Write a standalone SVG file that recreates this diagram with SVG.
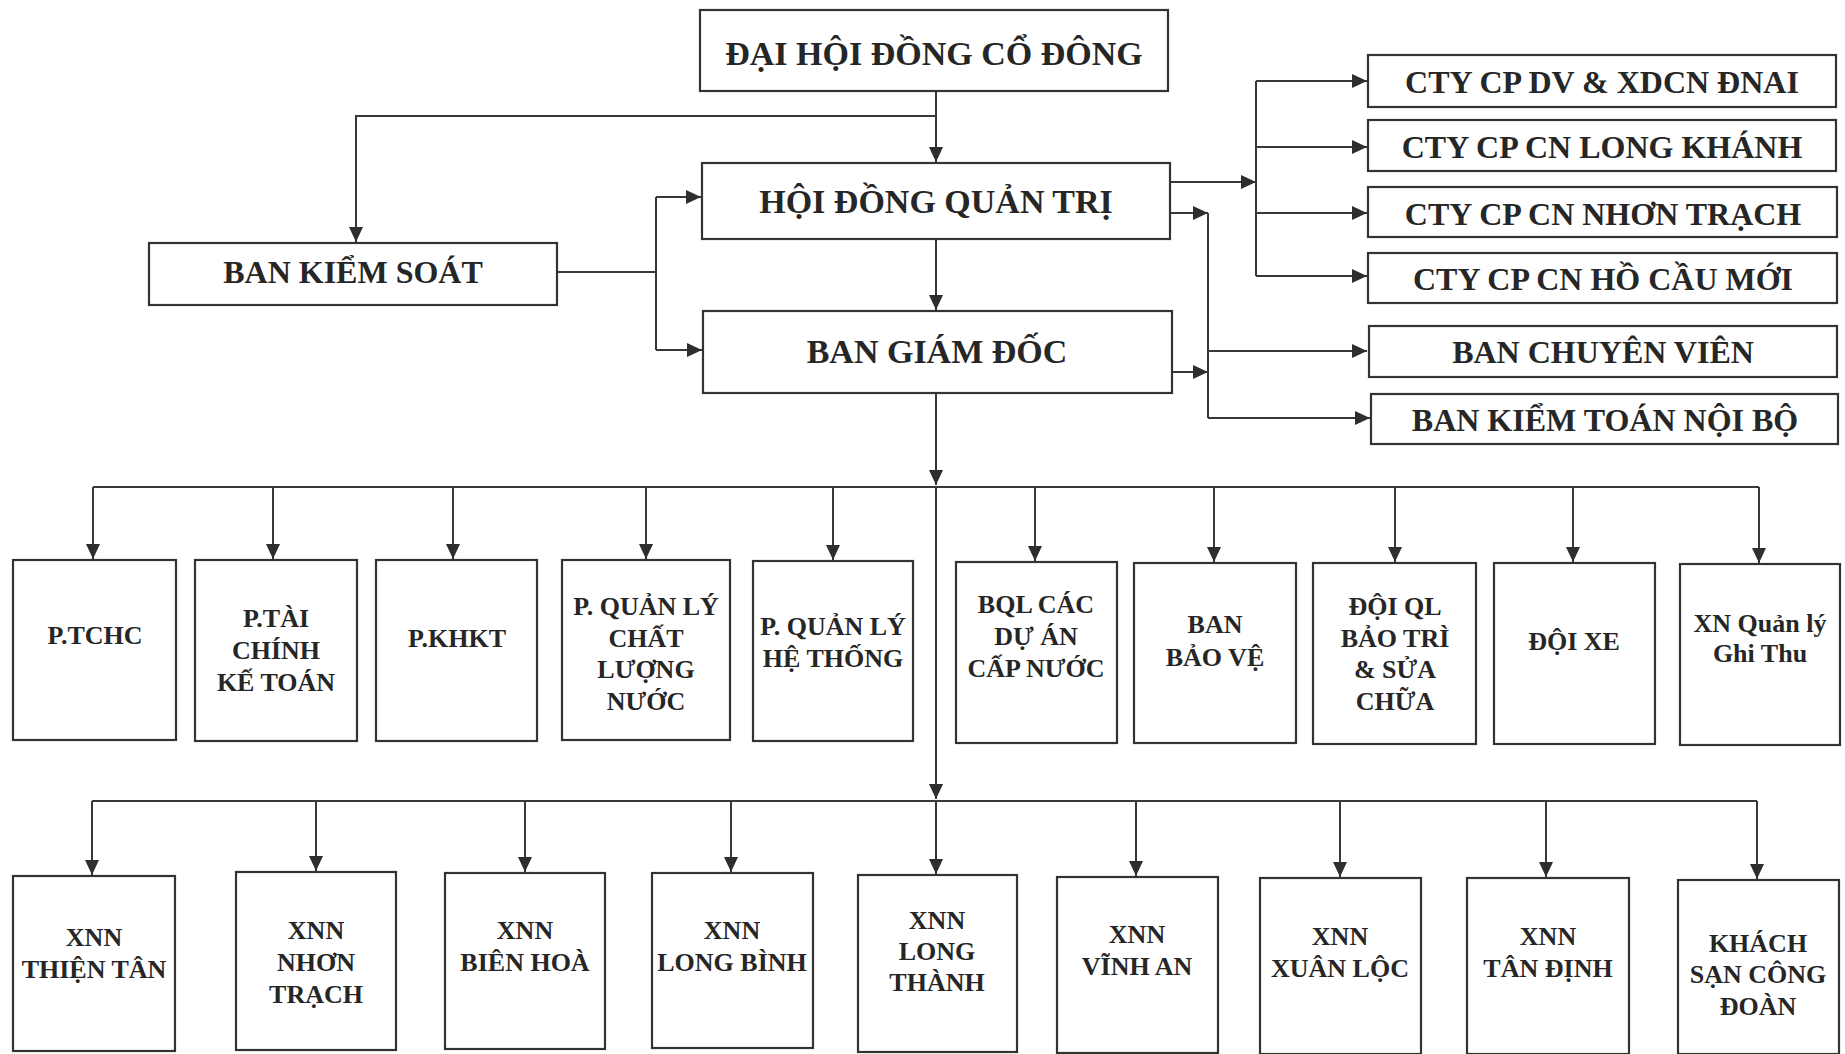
<svg xmlns="http://www.w3.org/2000/svg" width="1845" height="1054" viewBox="0 0 1845 1054">
<defs>
<style>
.box{fill:#fff;stroke:#333;stroke-width:2.2}
.ln{fill:none;stroke:#383838;stroke-width:2}
.t{font-family:"Liberation Serif","Times New Roman",serif;font-weight:bold;fill:#262626;text-anchor:middle}
.t1{font-size:34px}
.t2{font-size:32px}
.t3{font-size:26px}
</style>
<marker id="ah" markerUnits="userSpaceOnUse" markerWidth="16" markerHeight="14" refX="15" refY="7" orient="auto">
<path d="M0,0 L15,7 L0,14 z" fill="#2e2e2e"/>
</marker>
</defs>
<rect width="1845" height="1054" fill="#fff"/>

<g id="connectors">
<path class="ln" d="M936,91 V162" marker-end="url(#ah)"/>
<path class="ln" d="M936,116 H356 V242" marker-end="url(#ah)"/>
<path class="ln" d="M557,272 H656"/>
<path class="ln" d="M656,197 V350"/>
<path class="ln" d="M656,197 H701" marker-end="url(#ah)"/>
<path class="ln" d="M656,350 H702" marker-end="url(#ah)"/>
<path class="ln" d="M936,239 V310" marker-end="url(#ah)"/>
<path class="ln" d="M1170,182 H1256" marker-end="url(#ah)"/>
<path class="ln" d="M1256,81 V276"/>
<path class="ln" d="M1256,81 H1367" marker-end="url(#ah)"/>
<path class="ln" d="M1256,147 H1367" marker-end="url(#ah)"/>
<path class="ln" d="M1256,213 H1367" marker-end="url(#ah)"/>
<path class="ln" d="M1256,276 H1367" marker-end="url(#ah)"/>
<path class="ln" d="M1170,213 H1208" marker-end="url(#ah)"/>
<path class="ln" d="M1208,213 V418"/>
<path class="ln" d="M1172,372 H1208" marker-end="url(#ah)"/>
<path class="ln" d="M1208,351 H1367" marker-end="url(#ah)"/>
<path class="ln" d="M1208,418 H1370" marker-end="url(#ah)"/>
<path class="ln" d="M936,393 V485" marker-end="url(#ah)"/>
<path class="ln" d="M93,487 H1759"/>
<path class="ln" d="M93,487 V559" marker-end="url(#ah)"/>
<path class="ln" d="M273,487 V559" marker-end="url(#ah)"/>
<path class="ln" d="M453,487 V559" marker-end="url(#ah)"/>
<path class="ln" d="M646,487 V559" marker-end="url(#ah)"/>
<path class="ln" d="M833,487 V560" marker-end="url(#ah)"/>
<path class="ln" d="M1035,487 V561" marker-end="url(#ah)"/>
<path class="ln" d="M1214,487 V562" marker-end="url(#ah)"/>
<path class="ln" d="M1395,487 V562" marker-end="url(#ah)"/>
<path class="ln" d="M1573,487 V562" marker-end="url(#ah)"/>
<path class="ln" d="M1759,487 V563" marker-end="url(#ah)"/>
<path class="ln" d="M936,487 V799" marker-end="url(#ah)"/>
<path class="ln" d="M92,801 H1757"/>
<path class="ln" d="M92,801 V875" marker-end="url(#ah)"/>
<path class="ln" d="M316,801 V871" marker-end="url(#ah)"/>
<path class="ln" d="M525,801 V872" marker-end="url(#ah)"/>
<path class="ln" d="M731,801 V872" marker-end="url(#ah)"/>
<path class="ln" d="M936,801 V874" marker-end="url(#ah)"/>
<path class="ln" d="M1136,801 V876" marker-end="url(#ah)"/>
<path class="ln" d="M1340,801 V877" marker-end="url(#ah)"/>
<path class="ln" d="M1546,801 V877" marker-end="url(#ah)"/>
<path class="ln" d="M1757,801 V879" marker-end="url(#ah)"/>
</g>

<g id="n-dhdcd"><rect class="box" x="700" y="10" width="468" height="81"/><text class="t t1" x="934" y="65">ĐẠI HỘI ĐỒNG CỔ ĐÔNG</text></g>
<g id="n-hdqt"><rect class="box" x="702" y="163" width="468" height="76"/><text class="t t1" x="936" y="213">HỘI ĐỒNG QUẢN TRỊ</text></g>
<g id="n-bgd"><rect class="box" x="703" y="311" width="469" height="82"/><text class="t t1" x="937" y="363">BAN GIÁM ĐỐC</text></g>
<g id="n-bks"><rect class="box" x="149" y="243" width="408" height="62"/><text class="t t2" x="353" y="283">BAN KIỂM SOÁT</text></g>

<g id="n-cty1"><rect class="box" x="1368" y="55" width="468" height="52"/><text class="t t2" x="1602" y="93">CTY CP DV &amp; XDCN ĐNAI</text></g>
<g id="n-cty2"><rect class="box" x="1368" y="120" width="468" height="51"/><text class="t t2" x="1602" y="158">CTY CP CN LONG KHÁNH</text></g>
<g id="n-cty3"><rect class="box" x="1368" y="187" width="469" height="50"/><text class="t t2" x="1603" y="225">CTY CP CN NHƠN TRẠCH</text></g>
<g id="n-cty4"><rect class="box" x="1368" y="253" width="469" height="50"/><text class="t t2" x="1603" y="290">CTY CP CN HỒ CẦU MỚI</text></g>
<g id="n-bcv"><rect class="box" x="1369" y="326" width="468" height="51"/><text class="t t2" x="1603" y="363">BAN CHUYÊN VIÊN</text></g>
<g id="n-bktnb"><rect class="box" x="1371" y="394" width="467" height="50"/><text class="t t2" x="1605" y="431">BAN KIỂM TOÁN NỘI BỘ</text></g>

<g id="n-ptchc"><rect class="box" x="13" y="560" width="163" height="180"/><text class="t t3" x="95" y="644">P.TCHC</text></g>
<g id="n-ptckt"><rect class="box" x="195" y="560" width="162" height="181"/><text class="t t3" x="276"><tspan x="276" y="627">P.TÀI</tspan><tspan x="276" y="659">CHÍNH</tspan><tspan x="276" y="691">KẾ TOÁN</tspan></text></g>
<g id="n-pkhkt"><rect class="box" x="376" y="560" width="161" height="181"/><text class="t t3" x="457" y="647">P.KHKT</text></g>
<g id="n-pqlcl"><rect class="box" x="562" y="560" width="168" height="180"/><text class="t t3" x="646"><tspan x="646" y="615">P. QUẢN LÝ</tspan><tspan x="646" y="647">CHẤT</tspan><tspan x="646" y="678">LƯỢNG</tspan><tspan x="646" y="710">NƯỚC</tspan></text></g>
<g id="n-pqlht"><rect class="box" x="753" y="561" width="160" height="180"/><text class="t t3" x="833"><tspan x="833" y="635">P. QUẢN LÝ</tspan><tspan x="833" y="667">HỆ THỐNG</tspan></text></g>
<g id="n-bql"><rect class="box" x="956" y="562" width="161" height="181"/><text class="t t3" x="1036"><tspan x="1036" y="613">BQL CÁC</tspan><tspan x="1036" y="645">DỰ ÁN</tspan><tspan x="1036" y="677">CẤP NƯỚC</tspan></text></g>
<g id="n-bbv"><rect class="box" x="1134" y="563" width="162" height="180"/><text class="t t3" x="1215"><tspan x="1215" y="633">BAN</tspan><tspan x="1215" y="666">BẢO VỆ</tspan></text></g>
<g id="n-doiql"><rect class="box" x="1313" y="563" width="163" height="181"/><text class="t t3" x="1395"><tspan x="1395" y="615">ĐỘI QL</tspan><tspan x="1395" y="647">BẢO TRÌ</tspan><tspan x="1395" y="678">&amp; SỬA</tspan><tspan x="1395" y="710">CHỮA</tspan></text></g>
<g id="n-doixe"><rect class="box" x="1494" y="563" width="161" height="181"/><text class="t t3" x="1574" y="650">ĐỘI XE</text></g>
<g id="n-xnql"><rect class="box" x="1680" y="564" width="160" height="181"/><text class="t t3" x="1760"><tspan x="1760" y="632">XN Quản lý</tspan><tspan x="1760" y="662">Ghi Thu</tspan></text></g>

<g id="n-thientan"><rect class="box" x="13" y="876" width="162" height="175"/><text class="t t3" x="94"><tspan x="94" y="946">XNN</tspan><tspan x="94" y="978">THIỆN TÂN</tspan></text></g>
<g id="n-nhontrach"><rect class="box" x="236" y="872" width="160" height="178"/><text class="t t3" x="316"><tspan x="316" y="939">XNN</tspan><tspan x="316" y="971">NHƠN</tspan><tspan x="316" y="1003">TRẠCH</tspan></text></g>
<g id="n-bienhoa"><rect class="box" x="445" y="873" width="160" height="176"/><text class="t t3" x="525"><tspan x="525" y="939">XNN</tspan><tspan x="525" y="971">BIÊN HOÀ</tspan></text></g>
<g id="n-longbinh"><rect class="box" x="652" y="873" width="161" height="175"/><text class="t t3" x="732"><tspan x="732" y="939">XNN</tspan><tspan x="732" y="971">LONG BÌNH</tspan></text></g>
<g id="n-longthanh"><rect class="box" x="858" y="875" width="159" height="177"/><text class="t t3" x="937"><tspan x="937" y="929">XNN</tspan><tspan x="937" y="960">LONG</tspan><tspan x="937" y="991">THÀNH</tspan></text></g>
<g id="n-vinhan"><rect class="box" x="1057" y="877" width="161" height="176"/><text class="t t3" x="1137"><tspan x="1137" y="943">XNN</tspan><tspan x="1137" y="975">VĨNH AN</tspan></text></g>
<g id="n-xuanloc"><rect class="box" x="1260" y="878" width="161" height="176"/><text class="t t3" x="1340"><tspan x="1340" y="945">XNN</tspan><tspan x="1340" y="977">XUÂN LỘC</tspan></text></g>
<g id="n-tandinh"><rect class="box" x="1467" y="878" width="162" height="176"/><text class="t t3" x="1548"><tspan x="1548" y="945">XNN</tspan><tspan x="1548" y="977">TÂN ĐỊNH</tspan></text></g>
<g id="n-khachsan"><rect class="box" x="1678" y="880" width="161" height="174"/><text class="t t3" x="1758"><tspan x="1758" y="952">KHÁCH</tspan><tspan x="1758" y="983">SẠN CÔNG</tspan><tspan x="1758" y="1015">ĐOÀN</tspan></text></g>
</svg>
